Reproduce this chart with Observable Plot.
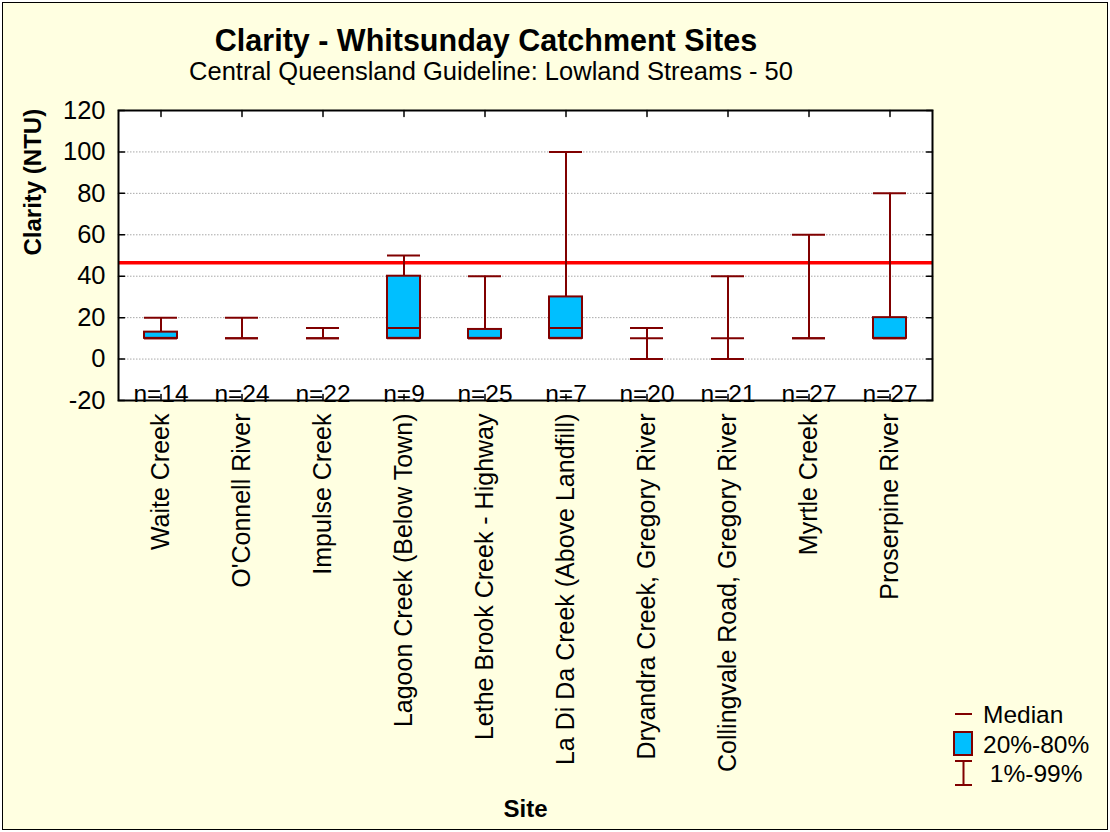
<!DOCTYPE html>
<html>
<head>
<meta charset="utf-8">
<script src="https://cdn.jsdelivr.net/npm/d3@7"></script>
<script src="https://cdn.jsdelivr.net/npm/@observablehq/plot@0.6"></script>
<style>
  html, body { margin: 0; padding: 0; background: #ffffff; }
  #fig { position: relative; width: 1110px; height: 832px; overflow: hidden; font-family: "Liberation Sans", Arial, sans-serif; color: #000; }
  #bg { position: absolute; left: 2px; top: 2px; width: 1104px; height: 826px; background: #ffffe1; border: 1.5px solid #000; }
  #chart { position: absolute; left: 0; top: 0; }
  .t { position: absolute; white-space: nowrap; line-height: 1; }
  #title { left: 0; width: 972px; text-align: center; top: 25px; font-size: 30.5px; font-weight: bold; }
  #subtitle { left: 0; width: 982px; text-align: center; top: 59px; font-size: 25.5px; }
  #xlabel { left: 0; width: 1051px; text-align: center; top: 797px; font-size: 24px; font-weight: bold; }
  .leg { position: absolute; left: 953px; }
  .legtxt { position: absolute; left: 983px; font-size: 24.5px; line-height: 1; white-space: nowrap; }
</style>
</head>
<body>
<div id="fig">
  <div id="bg"></div>
  <div id="chart"></div>
  <div class="t" id="title">Clarity - Whitsunday Catchment Sites</div>
  <div class="t" id="subtitle">Central Queensland Guideline: Lowland Streams - 50</div>
  <div class="t" id="xlabel">Site</div>
  <svg class="leg" style="top:704px" width="20" height="20"><line x1="2" x2="19" y1="10" y2="10" stroke="#800000" stroke-width="2"/></svg>
  <div class="legtxt" style="top:703px">Median</div>
  <svg class="leg" style="top:731px" width="21" height="26"><rect x="1" y="1" width="18" height="23" fill="#00bfff" stroke="#800000" stroke-width="2"/></svg>
  <div class="legtxt" style="top:733px">20%-80%</div>
  <svg class="leg" style="top:760px" width="21" height="27"><path d="M2,1H19M10.5,1V25M2,25H19" fill="none" stroke="#800000" stroke-width="2"/></svg>
  <div class="legtxt" style="top:762px">&nbsp;1%-99%</div>
</div>
<script>
// ---- data ----
const sites = [
  "Waite Creek",
  "O'Connell River",
  "Impulse Creek",
  "Lagoon Creek (Below Town)",
  "Lethe Brook Creek - Highway",
  "La Di Da Creek (Above Landfill)",
  "Dryandra Creek, Gregory River",
  "Collingvale Road, Gregory River",
  "Myrtle Creek",
  "Proserpine River"
];
const nCounts = [14, 24, 22, 9, 25, 7, 20, 21, 27, 27];
const p01 = [10, 10, 10, 10, 10, 10, 0, 0, 10, 10];
const p99 = [20, 20, 15, 50, 40, 100, 15, 40, 60, 80];
const q20 = [10, 10, 10, 10, 10, 10, 10, 10, 10, 10];
const q80 = [13, 10, 10, 40, 14.3, 30, 10, 10, 10, 20];
const medians = [10, 10, 10, 15, 10, 15, 10, 10, 10, 10];
const guideline = [46.5];
const yTicks = [-20, 0, 20, 40, 60, 80, 100, 120];
const gridVals = [0, 20, 40, 60, 80, 100];
const yTitle = ["Clarity (NTU)"];

const rows = sites.map((s, i) => ({
  site: s, n: "n=" + nCounts[i], lo: p01[i], hi: p99[i], q1: q20[i], q3: q80[i], med: medians[i]
}));
const boxes = rows.filter(d => d.q3 > d.q1);

const dark = "#800000";
const inset = 24;
const tickShape = {draw(ctx, l) { ctx.moveTo(0, 0); ctx.lineTo(0, -l); }};

const chart = Plot.plot({
  width: 1110,
  height: 832,
  marginLeft: 118,
  marginRight: 178,
  marginTop: 110,
  marginBottom: 432,
  style: {background: "transparent", fontFamily: "'Liberation Sans', Arial, sans-serif", fontSize: "25px", color: "#000"},
  x: {domain: sites, padding: 0},
  y: {domain: [-20, 120]},
  marks: [
    Plot.frame({fill: "white", stroke: null}),
    Plot.gridY(gridVals, {stroke: "#a8a8a8", strokeOpacity: 1, strokeDasharray: "1.5 1.5"}),
    Plot.ruleY(guideline, {stroke: "#ff0000", strokeWidth: 3.5}),
    Plot.ruleX(rows, {x: "site", y1: "lo", y2: "hi", stroke: dark, strokeWidth: 2}),
    Plot.tickY(rows, {x: "site", y: "lo", stroke: dark, strokeWidth: 2, insetLeft: inset, insetRight: inset}),
    Plot.tickY(rows, {x: "site", y: "hi", stroke: dark, strokeWidth: 2, insetLeft: inset, insetRight: inset}),
    Plot.barY(boxes, {x: "site", y1: "q1", y2: "q3", fill: "#00bfff", stroke: dark, strokeWidth: 2, insetLeft: inset, insetRight: inset}),
    Plot.tickY(rows, {x: "site", y: "med", stroke: dark, strokeWidth: 2, insetLeft: inset, insetRight: inset}),
    // inward ticks
    Plot.vector(rows, {x: "site", frameAnchor: "top", length: 6, rotate: 180, anchor: "start", shape: tickShape, stroke: "black", strokeWidth: 1.5}),
    Plot.vector(rows, {x: "site", frameAnchor: "bottom", length: 6, rotate: 0, anchor: "start", shape: tickShape, stroke: "black", strokeWidth: 1.5}),
    Plot.vector(yTicks, {y: d => d, frameAnchor: "left", length: 6, rotate: 90, anchor: "start", shape: tickShape, stroke: "black", strokeWidth: 1.5}),
    Plot.vector(yTicks, {y: d => d, frameAnchor: "right", length: 6, rotate: -90, anchor: "start", shape: tickShape, stroke: "black", strokeWidth: 1.5}),
    Plot.text(rows, {x: "site", text: "n", frameAnchor: "bottom", lineAnchor: "bottom", dy: 1, fontSize: 24.5, fill: "black"}),
    Plot.frame({stroke: "black", strokeWidth: 2}),
    Plot.axisY({ticks: yTicks, tickSize: 0, tickPadding: 13, tickFormat: d => String(d), label: null, fontSize: 25.5}),
    Plot.axisX({anchor: "bottom", tickRotate: -90, tickSize: 0, tickPadding: 13, label: null, fontSize: 25}),
    Plot.text(yTitle, {text: d => d, frameAnchor: "left", rotate: -90, dx: -85, fontWeight: "bold", fontSize: 24, fill: "black"})
  ]
});
document.getElementById("chart").appendChild(chart);
</script>
</body>
</html>
